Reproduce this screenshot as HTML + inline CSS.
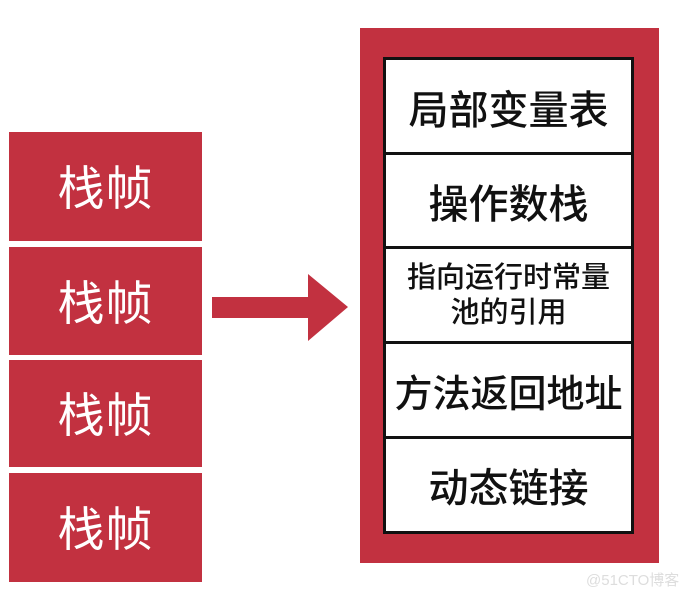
<!DOCTYPE html>
<html><head><meta charset="utf-8"><style>
body{margin:0;width:683px;height:597px;background:#fff;position:relative;overflow:hidden;font-family:"Liberation Sans","Noto Sans CJK SC",sans-serif}
.f{position:absolute;left:9px;width:193px;background:#c23140;color:#fff;font-size:47px;display:flex;align-items:center;justify-content:center;letter-spacing:1px;padding-bottom:4px;box-sizing:border-box}
.r{position:absolute;left:360px;top:28px;width:299px;height:535px;background:#c23140}
.c{position:absolute;left:383px;width:245px;background:#fff;border:3px solid #111;display:flex;align-items:center;justify-content:center;text-align:center;color:#111;font-weight:500}
</style></head><body>
<div class="f" style="top:132px;height:109px">栈帧</div>
<div class="f" style="top:247px;height:108px">栈帧</div>
<div class="f" style="top:360px;height:107px">栈帧</div>
<div class="f" style="top:473px;height:109px">栈帧</div>
<svg style="position:absolute;left:0;top:0" width="683" height="597"><polygon points="212,297 308,297 308,274 348,307 308,341 308,318 212,318" fill="#c23140"/></svg>
<div class="r"></div>
<div class="c" style="top:57px;height:93px;font-size:40px">局部变量表</div>
<div class="c" style="top:152px;height:92px;font-size:40px">操作数栈</div>
<div class="c" style="top:246px;height:93px;font-size:29px;line-height:35px">指向运行时常量<br>池的引用</div>
<div class="c" style="top:341px;height:93px;font-size:38px">方法返回地址</div>
<div class="c" style="top:436px;height:92px;font-size:40px">动态链接</div>
<div style="position:absolute;left:586px;top:569px;font-size:15px;color:#ddd">@51CTO博客</div>
</body></html>
